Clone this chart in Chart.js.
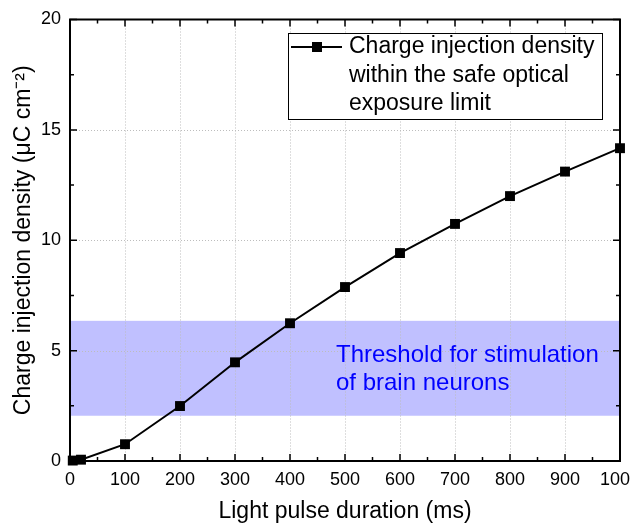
<!DOCTYPE html>
<html lang="en">
<head>
    <meta charset="UTF-8">
    <title>Charge injection density</title>
    <script src="https://cdn.jsdelivr.net/npm/chart.js"></script>
    <style>
        html, body { margin: 0; padding: 0; background: #fff; }
        #box { width: 630px; height: 525px; }
    </style>
</head>
<body>
    <div id="box"><canvas id="grafico" width="630" height="525"></canvas></div>

    <script>
        // dados
        const pulseMs = [5, 20, 100, 200, 300, 400, 500, 600, 700, 800, 900, 1000];
        const chargeDensity = [0.02, 0.06, 0.76, 2.49, 4.47, 6.24, 7.88, 9.42, 10.74, 12.0, 13.11, 14.17];
        const thresholdBand = [2.05, 6.35]; // faixa de estimulação
        const legendLines = ['Charge injection density', 'within the safe optical', 'exposure limit'];
        const bandLines = ['Threshold for stimulation', 'of brain neurons'];

        const fonte = '"Liberation Sans", Arial, sans-serif';

        // desenha faixa, grade, moldura com ticks para dentro, legenda e texto
        const enfeites = {
            id: 'enfeites',
            beforeDatasetsDraw(chart) {
                const { ctx, chartArea: a, scales: { x, y } } = chart;
                ctx.save();
                ctx.fillStyle = 'rgb(192,192,255)';
                const yTop = y.getPixelForValue(thresholdBand[1]);
                const yBot = y.getPixelForValue(thresholdBand[0]);
                ctx.fillRect(a.left, yTop, a.right - a.left, yBot - yTop);

                ctx.strokeStyle = '#bdbdbd';
                ctx.lineWidth = 1;
                ctx.setLineDash([1, 2]);
                ctx.beginPath();
                for (let v = 100; v < 1000; v += 100) {
                    const px = Math.round(x.getPixelForValue(v)) + 0.5;
                    ctx.moveTo(px, a.top); ctx.lineTo(px, a.bottom);
                }
                for (let v = 5; v < 20; v += 5) {
                    const py = Math.round(y.getPixelForValue(v)) + 0.5;
                    ctx.moveTo(a.left, py); ctx.lineTo(a.right, py);
                }
                ctx.stroke();
                ctx.setLineDash([]);

                ctx.fillStyle = '#0000ff';
                ctx.font = '24px ' + fonte;
                ctx.textBaseline = 'middle';
                ctx.fillText(bandLines[0], 336, 355);
                ctx.fillText(bandLines[1], 336, 383);
                ctx.restore();
            },
            afterDatasetsDraw(chart) {
                const { ctx, chartArea: a, scales: { x, y } } = chart;
                ctx.save();
                ctx.strokeStyle = '#000';
                ctx.lineWidth = 2;
                ctx.strokeRect(a.left, a.top, a.right - a.left, a.bottom - a.top);

                ctx.lineWidth = 1.5;
                ctx.beginPath();
                for (let v = 0; v <= 1000; v += 50) {
                    const px = x.getPixelForValue(v);
                    const len = v % 100 === 0 ? 7 : 4;
                    ctx.moveTo(px, a.bottom); ctx.lineTo(px, a.bottom - len);
                    ctx.moveTo(px, a.top); ctx.lineTo(px, a.top + len);
                }
                for (let v = 0; v <= 20; v += 2.5) {
                    const py = y.getPixelForValue(v);
                    const len = v % 5 === 0 ? 7 : 4;
                    ctx.moveTo(a.left, py); ctx.lineTo(a.left + len, py);
                    ctx.moveTo(a.right, py); ctx.lineTo(a.right - len, py);
                }
                ctx.stroke();

                // legenda
                ctx.fillStyle = '#fff';
                ctx.fillRect(288, 33, 314, 86);
                ctx.strokeStyle = '#000';
                ctx.lineWidth = 1;
                ctx.strokeRect(288.5, 33.5, 314, 86);
                ctx.lineWidth = 2;
                ctx.beginPath();
                ctx.moveTo(291, 47); ctx.lineTo(342, 47);
                ctx.stroke();
                ctx.fillStyle = '#000';
                ctx.fillRect(312, 42, 10, 10);
                ctx.font = '23px ' + fonte;
                ctx.textBaseline = 'middle';
                legendLines.forEach((t, i) => ctx.fillText(t, 349, 47 + i * 28.5));
                ctx.restore();
            }
        };

        const ctx = document.getElementById('grafico').getContext('2d');
        new Chart(ctx, {
            type: 'line',
            data: {
                datasets: [{
                    label: legendLines.join(' '),
                    data: pulseMs.map((v, i) => ({ x: v, y: chargeDensity[i] })),
                    borderColor: '#000',
                    backgroundColor: '#000',
                    borderWidth: 2,
                    pointStyle: 'rect',
                    pointRadius: 7,
                    pointBorderWidth: 0,
                    tension: 0
                }]
            },
            options: {
                responsive: false,
                animation: false,
                clip: false,
                layout: { autoPadding: false, padding: { top: 19.5, right: 10, left: 0, bottom: 0 } },
                plugins: { legend: { display: false }, tooltip: { enabled: false } },
                scales: {
                    x: {
                        type: 'linear',
                        min: 0, max: 1000,
                        afterFit(s) { s.height = 64; s.paddingLeft = 0; s.paddingRight = 0; },
                        grid: { display: false, drawTicks: false },
                        border: { display: false },
                        ticks: { stepSize: 100, color: '#000', padding: 8, maxRotation: 0, callback: v => String(v), font: { family: fonte, size: 18 } },
                        title: { display: true, text: 'Light pulse duration (ms)', color: '#000', padding: { top: 2, bottom: 0 }, font: { family: fonte, size: 23 } }
                    },
                    y: {
                        min: 0, max: 20,
                        afterFit(s) { s.width = 70; s.paddingTop = 0; s.paddingBottom = 0; },
                        grid: { display: false, drawTicks: false },
                        border: { display: false },
                        ticks: { stepSize: 5, color: '#000', padding: 9, font: { family: fonte, size: 18 } },
                        title: { display: true, text: 'Charge injection density (\u03bcC cm\u207b\u00b2)', color: '#000', padding: { top: 10, bottom: 0 }, font: { family: fonte, size: 23 } }
                    }
                }
            },
            plugins: [enfeites]
        });
    </script>
</body>
</html>
